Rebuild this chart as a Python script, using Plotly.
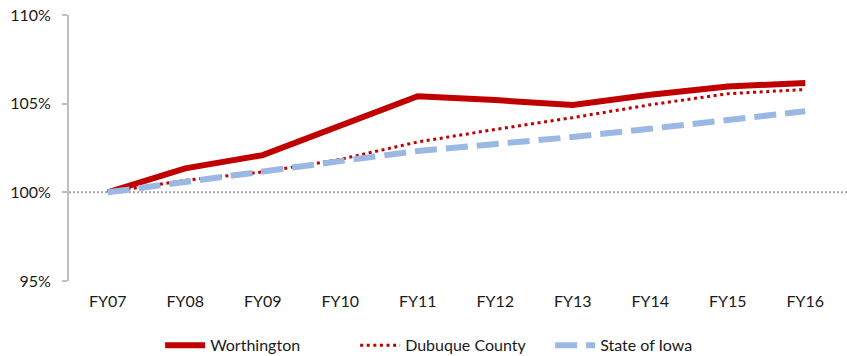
import plotly.graph_objects as go

# Fiscal years on the category axis
years = ["FY07", "FY08", "FY09", "FY10", "FY11", "FY12", "FY13", "FY14", "FY15", "FY16"]

# Index relative to FY07 (1.00 = 100%)
worthington = [1.000, 1.0135, 1.021, 1.038, 1.0542, 1.052, 1.0492, 1.055, 1.0597, 1.0617]
dubuque_county = [1.000, 1.0068, 1.0115, 1.0186, 1.0284, 1.0355, 1.0421, 1.0494, 1.0556, 1.0580]
state_of_iowa = [1.000, 1.0056, 1.0113, 1.0176, 1.0233, 1.0270, 1.0312, 1.0359, 1.0410, 1.0457]

y_ticks = [0.95, 1.00, 1.05, 1.10]

FONT = "Lato"
TEXT = "#1a1a1a"

fig = go.Figure()

fig.add_trace(go.Scatter(
    x=years, y=worthington, name="Worthington", mode="lines",
    line=dict(color="#C00000", width=6),
))
fig.add_trace(go.Scatter(
    x=years, y=dubuque_county, name="Dubuque County", mode="lines",
    line=dict(color="#C00000", width=3, dash="3px,3.6px"),
))
fig.add_trace(go.Scatter(
    x=years, y=state_of_iowa, name="State of Iowa", mode="lines",
    line=dict(color="#9BB7E4", width=6, dash="22px,9px"),
))

# Dotted baseline at 100%
fig.add_shape(
    type="line", xref="paper", yref="y", x0=0, x1=1.01, y0=1.0, y1=1.0,
    line=dict(color="#A6A6A6", width=2, dash="2px,2px"), layer="below",
)

fig.update_layout(
    width=847, height=356,
    margin=dict(l=69, r=3, t=15, b=75, autoexpand=False),
    paper_bgcolor="white", plot_bgcolor="white",
    font=dict(family=FONT, size=16, color=TEXT),
    showlegend=True,
    legend=dict(
        orientation="h", x=0.495, xanchor="center",
        yref="container", y=0.03, yanchor="middle",
        font=dict(family=FONT, size=16, color=TEXT),
        entrywidth=140, itemwidth=40, traceorder="normal",
    ),
    xaxis=dict(
        type="category", range=[-0.5, 9.5],
        showline=False, showgrid=False, zeroline=False, ticks="",
        tickfont=dict(family=FONT, size=16, color=TEXT),
        ticklabelstandoff=9,
    ),
    yaxis=dict(
        range=[0.95, 1.10], tickvals=y_ticks, tickformat=".0%",
        showline=True, linecolor="#BFBFBF", linewidth=2,
        ticks="outside", ticklen=5, tickcolor="#BFBFBF", tickwidth=2,
        showgrid=False, zeroline=False,
        tickfont=dict(family=FONT, size=16, color=TEXT),
        ticklabelstandoff=8,
    ),
)

fig.write_html("out.html")
